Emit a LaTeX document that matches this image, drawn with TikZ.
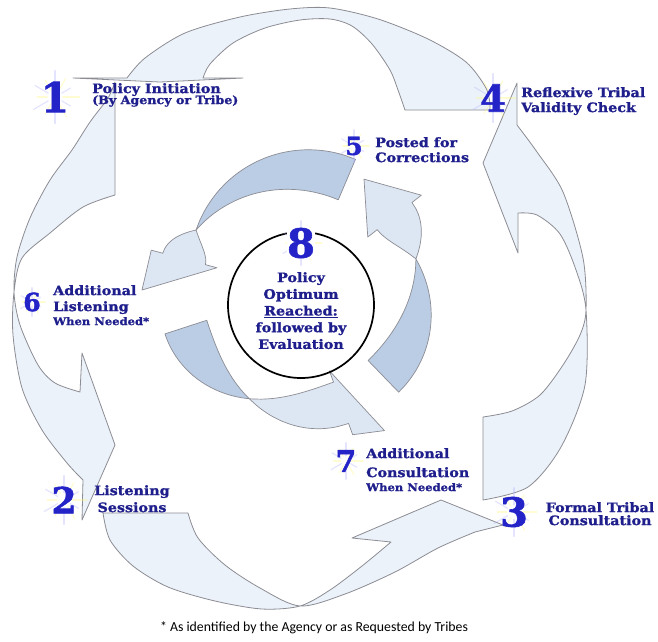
\documentclass[tikz,border=0pt]{standalone}
\usepackage{fontspec}
\usetikzlibrary{positioning}
\newfontfamily\lblfont[FakeStretch=1.1, BoldFeatures={FakeBold=1.2}]{DejaVu Serif}
\newfontfamily\numfont[BoldFeatures={FakeBold=1.5}]{DejaVu Serif}
\newfontfamily\notefont{Carlito}
\definecolor{outerfill}{RGB}{236,242,249}
\definecolor{innerdark}{RGB}{186,205,228}
\definecolor{innerlight}{RGB}{221,231,243}
\definecolor{edgegray}{RGB}{140,140,148}
\definecolor{lblblue}{RGB}{30,30,140}
\definecolor{numblue}{RGB}{35,35,200}
\newcommand{\subline}[1]{\fontsize{#1}{12}\selectfont}
\tikzset{
  outerarrow/.style={fill=outerfill, draw=edgegray, line width=0.8pt, line join=round},
  frontface/.style={fill=innerdark, draw=edgegray, line width=0.7pt, line join=round},
  backface/.style={fill=innerlight, draw=edgegray, line width=0.7pt, line join=round},
  num/.style={font=\numfont\bfseries\fontsize{#1}{#1}\selectfont, text=numblue, inner sep=0pt},
  num/.default=40,
  lbl/.style={font=\lblfont\bfseries\fontsize{13}{15}\selectfont, text=lblblue, inner sep=0pt, align=left},
  ray/.style={line width=1.2pt, line cap=round, opacity=0.35},
}
\newcommand{\glint}[2]{%
  \foreach \a/\l/\c in {0/1/yellow!50, 30/0.6/blue!30, 60/0.9/yellow!50, 90/1.1/blue!30,
      120/0.7/yellow!50, 150/1/blue!30, 180/0.6/yellow!50, 210/0.9/blue!30,
      240/0.7/yellow!50, 270/1.1/blue!30, 300/0.8/yellow!50, 330/0.6/blue!30}
    \draw[ray, draw=\c] (#1) ++(\a:{6*#2}) -- ++(\a:{\l*13*#2});
}
\newcommand{\twistarrow}[5]{%
  \draw[frontface] plot[smooth, domain=0:1, samples=17, variable=\s] ({#1+\s*(#2-(#1))}:{120+22*cos(90*\s)})
    -- plot[smooth, domain=1:0, samples=17, variable=\s] ({#1+\s*(#2-(#1))}:{120-22*cos(90*\s)}) -- cycle;
  \draw[backface] plot[smooth, domain=0:1, samples=9, variable=\s] ({#2+\s*(#3-(#2))}:{120+22*sin(90*\s)})
    -- (#3:154) -- (#4:#5) -- (#3:86)
    -- plot[smooth, domain=1:0, samples=9, variable=\s] ({#2+\s*(#3-(#2))}:{120-22*sin(90*\s)}) -- cycle;
}

\begin{document}
\begin{tikzpicture}[x=1pt, y=-1pt]
  \fill[white] (0,0) rectangle (658,641);
  \useasboundingbox (0,0) rectangle (658,641);

  \draw[outerarrow] (115,82) -- plot[smooth] coordinates {(115,82) (108,98) (90,122) (72,150) (50,180) (30,218) (17,257) (14,292) (20,325) (38,365) (55,383) (80,392)}
    -- (82,353) -- (115,445) -- (82,520)
    -- plot[smooth] coordinates {(83,480) (67,463) (42,430) (22,388) (13,335) (14,292) (22,258) (50,233) (83,207) (115,195)} -- cycle;
  \draw[outerarrow] (103,513) -- plot[smooth] coordinates {(188,513) (198,538) (225,565) (260,588) (300,606) (345,594) (395,572) (438,548) (475,532)}
    -- (503,525) -- (441,500) -- (352,538)
    -- plot[smooth] coordinates {(391,542) (362,566) (330,590) (300,606) (262,609) (215,601) (168,587) (133,566) (110,540) (103,513)} -- cycle;
  \draw[outerarrow] (483,500) -- plot[smooth] coordinates {(483,417) (512,411) (540,395) (563,365) (580,335) (586,310) (583,258) (563,192) (537,152) (517,125)}
    -- (517,83) -- (483,163) -- (518,253)
    -- plot[smooth] coordinates {(518,213) (537,215) (560,234) (576,270) (586,310) (585,385) (561,447) (528,487) (483,500)} -- cycle;
  \draw[outerarrow] (405,110) -- (490,110) -- plot[smooth] coordinates {(490,105) (486,88) (466,62) (428,39) (378,19) (330,8) (290,9) (240,17) (185,33) (145,58) (127,78)}
    -- (73,78) -- (160,82) -- (243,78)
    -- plot[smooth] coordinates {(203,78) (210,64) (233,43) (265,28) (300,20) (330,19) (352,26) (372,44) (390,70) (398,90) (405,110)} -- cycle;

  \begin{scope}[shift={(300,290)}]
    \twistarrow{-67}{-150}{-165}{-180}{158}
    \twistarrow{-198}{-245}{-290}{-301}{164}
    \twistarrow{-314}{-375}{-398}{-420}{128}
  \end{scope}

  \node[draw, circle, line width=1.7pt, minimum size=146pt, inner sep=0pt] (goal) at (301,305) {};

  \coordinate (p1) at (55,97);
  \coordinate (p2) at (64,500);
  \coordinate (p3) at (514,512);
  \coordinate (p4) at (493,98);
  \coordinate (p5) at (354,146);
  \coordinate (p6) at (32,302);
  \coordinate (p7) at (346,461);
  \coordinate (p8) at (301,243);
  \glint{p1}{1.3} \glint{p2}{1.2} \glint{p3}{1.2} \glint{p4}{1.2}
  \glint{p5}{0.8} \glint{p6}{0.7} \glint{p7}{0.9} \glint{p8}{1.1}

  \node[num=41] (n1) at (p1) {1};
  \node[num=36] (n2) at (p2) {2};
  \node[num=40] (n3) at (p3) {3};
  \node[num=37] (n4) at (p4) {4};
  \node[num=25] (n5) at (p5) {5};
  \node[num=25] (n6) at (p6) {6};
  \node[num=30] (n7) at (p7) {7};
  \node[num=40, fill=white] (n8) at (p8) {8};

  \node[lbl, anchor=north west] (t1) at (92,83) {Policy Initiation\\[-4pt]{\subline{11.5}(By Agency or Tribe)}};
  \node[lbl, anchor=north, align=center] (t2) at (132,485) {Listening\\[2pt]Sessions};
  \node[lbl, anchor=north, align=center] (t3) at (600,502) {Formal Tribal\\[-2pt]Consultation};
  \node[lbl, anchor=north west] (t4) at (521,87) {Reflexive Tribal\\Validity Check};
  \node[lbl, anchor=north west] (t5) at (375,137) {Posted for\\Corrections};
  \node[lbl, anchor=north west] (t6) at (53,285) {Additional\\[1pt]Listening\\[-1pt]{\subline{10.5}When Needed*}};
  \node[lbl, anchor=north west] (t7) at (366,448) {Additional\\[4pt]Consultation\\[-1pt]{\subline{10.5}When Needed*}};
  \node[lbl, anchor=north, align=center] (t8) at (301,272) {Policy\\[1.7pt]Optimum\\[1.7pt]\underline{Reached:}\\[1.7pt]followed by\\[1.7pt]Evaluation};

  \node[font=\notefont\fontsize{13.8}{16}\selectfont, anchor=base, inner sep=0pt] (note) at (314,631) {* As identified by the Agency or as Requested by Tribes};
\end{tikzpicture}
\end{document}
